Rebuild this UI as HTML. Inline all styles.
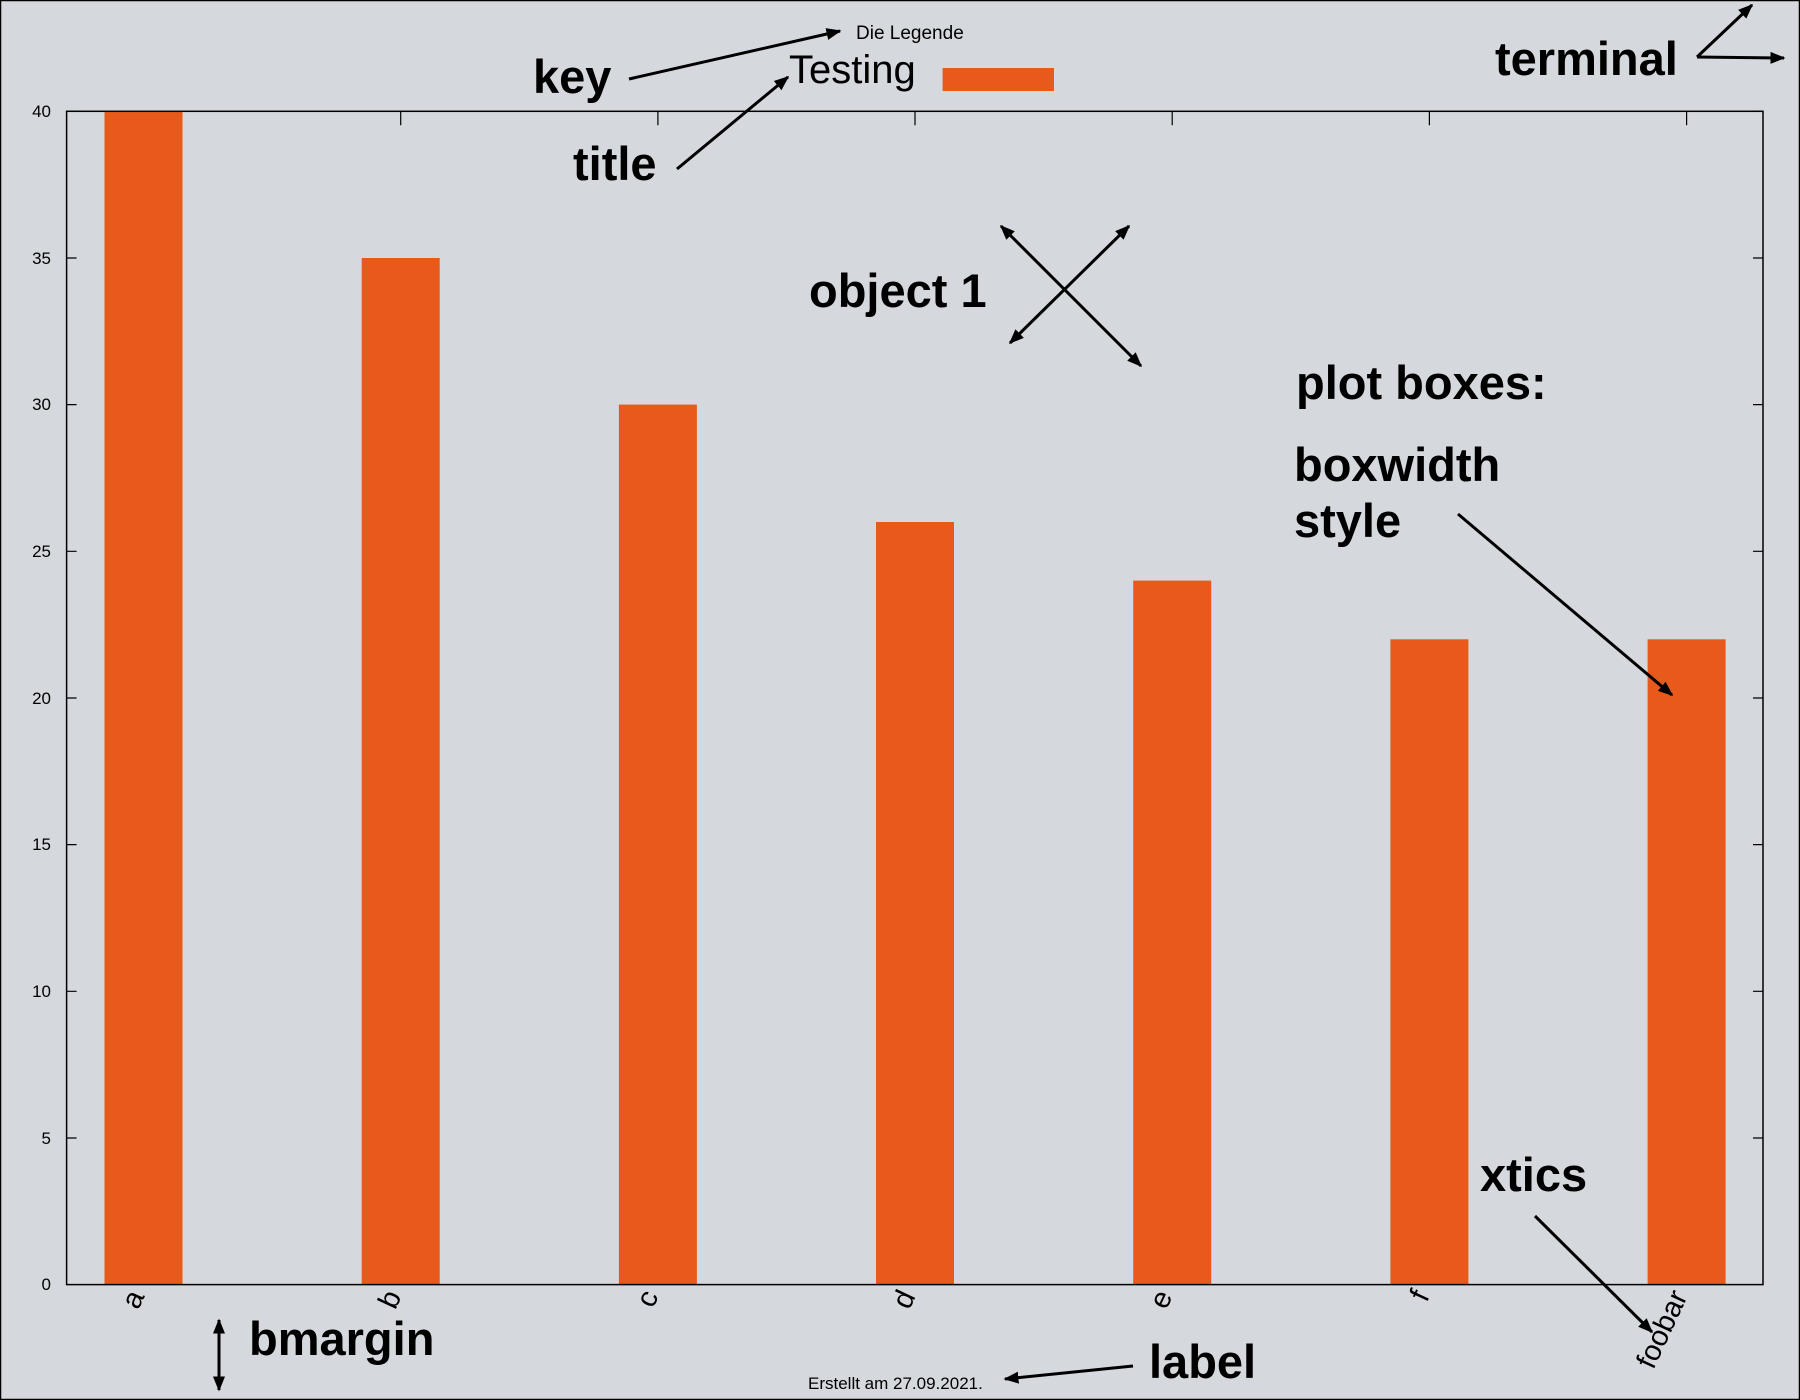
<!DOCTYPE html>
<html><head><meta charset="utf-8"><style>
html,body{margin:0;padding:0;background:#d5d8dc;}
svg{display:block;}
text{font-family:"Liberation Sans",sans-serif;}
.b{font-weight:bold;font-size:47px;}
</style></head><body>
<svg width="1800" height="1400" viewBox="0 0 1800 1400" xmlns="http://www.w3.org/2000/svg">
<defs>
<marker id="ah" viewBox="0 0 10 10" refX="9" refY="5" markerWidth="5" markerHeight="5" orient="auto-start-reverse"><path d="M0,1 L10,5 L0,9 z" fill="#000"/></marker>
</defs>
<rect x="0.5" y="0.5" width="1799" height="1399" fill="#d5d8dc" stroke="#000" stroke-width="1.5"/>
<g fill="#e85a1b">
<rect x="104.5" y="111.3" width="78" height="1173.3"/>
<rect x="361.7" y="258" width="78" height="1026.6"/>
<rect x="618.9" y="404.6" width="78" height="880"/>
<rect x="876" y="522" width="78" height="762.6"/>
<rect x="1133.2" y="580.6" width="78" height="704"/>
<rect x="1390.4" y="639.3" width="78" height="645.3"/>
<rect x="1647.6" y="639.3" width="78" height="645.3"/>
<rect x="942.6" y="68" width="111.4" height="23"/>
</g>
<rect x="66.6" y="111.3" width="1696.4" height="1173.3" fill="none" stroke="#000" stroke-width="1.5"/>
<g stroke="#000" stroke-width="1.2">
<path d="M66.6,111.3h10M1763,111.3h-10M66.6,258h10M1763,258h-10M66.6,404.6h10M1763,404.6h-10M66.6,551.3h10M1763,551.3h-10M66.6,698h10M1763,698h-10M66.6,844.6h10M1763,844.6h-10M66.6,991.3h10M1763,991.3h-10M66.6,1138h10M1763,1138h-10"/>
<path d="M400.7,111.3v14M657.9,111.3v14M915,111.3v14M1172.2,111.3v14M1429.4,111.3v14M1686.6,111.3v14"/>
</g>
<g font-size="17" text-anchor="end">
<text x="51" y="117">40</text><text x="51" y="264">35</text><text x="51" y="410">30</text><text x="51" y="557">25</text><text x="51" y="704">20</text><text x="51" y="850">15</text><text x="51" y="997">10</text><text x="51" y="1144">5</text><text x="51" y="1290">0</text>
</g>
<g font-size="29" text-anchor="end">
<text transform="translate(145,1296) rotate(-65)">a</text>
<text transform="translate(402,1296) rotate(-65)">b</text>
<text transform="translate(659,1296) rotate(-65)">c</text>
<text transform="translate(916,1296) rotate(-65)">d</text>
<text transform="translate(1173,1296) rotate(-65)">e</text>
<text transform="translate(1430,1296) rotate(-65)">f</text>
<text transform="translate(1688,1296) rotate(-65)">foobar</text>
</g>
<text x="856" y="39" font-size="19">Die Legende</text>
<text x="789" y="83" font-size="40">Testing</text>
<text x="808" y="1389" font-size="17">Erstellt am 27.09.2021.</text>
<g class="b">
<text class="b" x="533" y="93">key</text>
<text class="b" x="573" y="180">title</text>
<text class="b" x="809" y="307">object 1</text>
<text class="b" x="1296" y="399">plot boxes:</text>
<text class="b" x="1294" y="481">boxwidth</text>
<text class="b" x="1294" y="537">style</text>
<text class="b" x="1495" y="75">terminal</text>
<text class="b" x="1480" y="1191">xtics</text>
<text class="b" x="249" y="1355">bmargin</text>
<text class="b" x="1149" y="1378">label</text>
</g>
<g stroke="#000" stroke-width="3" fill="none">
<line x1="629" y1="79" x2="840" y2="31" marker-end="url(#ah)"/>
<line x1="677" y1="169" x2="788" y2="77" marker-end="url(#ah)"/>
<line x1="1001" y1="226" x2="1141" y2="366" marker-start="url(#ah)" marker-end="url(#ah)"/>
<line x1="1010" y1="343" x2="1129" y2="226" marker-start="url(#ah)" marker-end="url(#ah)"/>
<line x1="1458" y1="514" x2="1672" y2="695" marker-end="url(#ah)"/>
<line x1="1697" y1="57" x2="1752" y2="5" marker-end="url(#ah)"/>
<line x1="1697" y1="57" x2="1784" y2="58" marker-end="url(#ah)"/>
<line x1="1535" y1="1216" x2="1652" y2="1332" marker-end="url(#ah)"/>
<line x1="1133" y1="1366" x2="1005" y2="1379" marker-end="url(#ah)"/>
<line x1="219" y1="1320" x2="219" y2="1390" marker-start="url(#ah)" marker-end="url(#ah)"/>
</g>
</svg>
</body></html>
